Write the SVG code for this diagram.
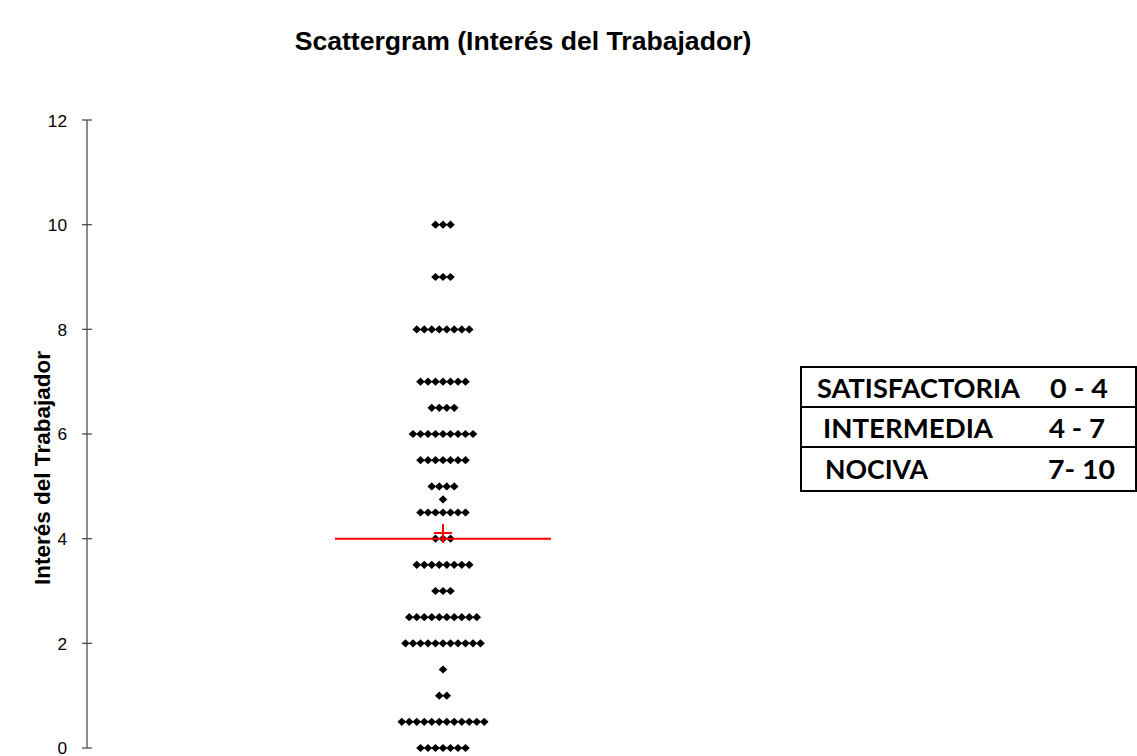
<svg xmlns="http://www.w3.org/2000/svg" xmlns:xlink="http://www.w3.org/1999/xlink" width="1137" height="756" viewBox="0 0 1137 756">
<style>
.title{font-family:"Liberation Sans",Arial,sans-serif;font-weight:bold;font-size:26.6px;fill:#000}
.tick{font-family:"Liberation Sans",Arial,sans-serif;font-size:17.3px;fill:#000;text-anchor:end}
.axlabel{font-family:"Liberation Sans",Arial,sans-serif;font-weight:bold;font-size:22.5px;fill:#000}
.axis{stroke:#404040;stroke-width:1.2;fill:none}
.mean{stroke:#ff0000;stroke-width:2;fill:none}
.tbl{stroke:#000;stroke-width:2;fill:#fff}
.tline{stroke:#000;stroke-width:2}
.ttext{font-family:Lato,"Open Sans",sans-serif;font-weight:bold;font-size:26px;fill:#000}
</style>
<defs>
<path id="d" d="M0,-4.1 L4.3,0 L0,4.1 L-4.3,0 Z" fill="#000"/>
</defs>
<rect width="1137" height="756" fill="#fff"/>
<g id="title">
<text class="title" x="523" y="50" text-anchor="middle">Scattergram (Interés del Trabajador)</text>
</g>
<g id="y-axis">
<line class="axis" x1="87" y1="120" x2="87" y2="748"/>
<line class="axis" x1="82" y1="120" x2="92" y2="120"/>
<line class="axis" x1="82" y1="224.7" x2="92" y2="224.7"/>
<line class="axis" x1="82" y1="329.3" x2="92" y2="329.3"/>
<line class="axis" x1="82" y1="434" x2="92" y2="434"/>
<line class="axis" x1="82" y1="538.7" x2="92" y2="538.7"/>
<line class="axis" x1="82" y1="643.3" x2="92" y2="643.3"/>
<line class="axis" x1="82" y1="748" x2="92" y2="748"/>
<text class="tick" x="67" y="126.5">12</text>
<text class="tick" x="67" y="231">10</text>
<text class="tick" x="67" y="335.5">8</text>
<text class="tick" x="67" y="440.2">6</text>
<text class="tick" x="67" y="545">4</text>
<text class="tick" x="67" y="649.5">2</text>
<text class="tick" x="67" y="754">0</text>
<text class="axlabel" transform="translate(50,468) rotate(-90)" text-anchor="middle">Interés del Trabajador</text>
</g>
<g id="points">
<use xlink:href="#d" x="435.5" y="224.7"/><use xlink:href="#d" x="443" y="224.7"/><use xlink:href="#d" x="450.5" y="224.7"/>
<use xlink:href="#d" x="435.5" y="277"/><use xlink:href="#d" x="443" y="277"/><use xlink:href="#d" x="450.5" y="277"/>
<use xlink:href="#d" x="416.75" y="329.4"/><use xlink:href="#d" x="424.25" y="329.4"/><use xlink:href="#d" x="431.75" y="329.4"/><use xlink:href="#d" x="439.25" y="329.4"/><use xlink:href="#d" x="446.75" y="329.4"/><use xlink:href="#d" x="454.25" y="329.4"/><use xlink:href="#d" x="461.75" y="329.4"/><use xlink:href="#d" x="469.25" y="329.4"/>
<use xlink:href="#d" x="420.5" y="381.7"/><use xlink:href="#d" x="428" y="381.7"/><use xlink:href="#d" x="435.5" y="381.7"/><use xlink:href="#d" x="443" y="381.7"/><use xlink:href="#d" x="450.5" y="381.7"/><use xlink:href="#d" x="458" y="381.7"/><use xlink:href="#d" x="465.5" y="381.7"/>
<use xlink:href="#d" x="431.75" y="407.8"/><use xlink:href="#d" x="439.25" y="407.8"/><use xlink:href="#d" x="446.75" y="407.8"/><use xlink:href="#d" x="454.25" y="407.8"/>
<use xlink:href="#d" x="413" y="434"/><use xlink:href="#d" x="420.5" y="434"/><use xlink:href="#d" x="428" y="434"/><use xlink:href="#d" x="435.5" y="434"/><use xlink:href="#d" x="443" y="434"/><use xlink:href="#d" x="450.5" y="434"/><use xlink:href="#d" x="458" y="434"/><use xlink:href="#d" x="465.5" y="434"/><use xlink:href="#d" x="473" y="434"/>
<use xlink:href="#d" x="420.5" y="460.2"/><use xlink:href="#d" x="428" y="460.2"/><use xlink:href="#d" x="435.5" y="460.2"/><use xlink:href="#d" x="443" y="460.2"/><use xlink:href="#d" x="450.5" y="460.2"/><use xlink:href="#d" x="458" y="460.2"/><use xlink:href="#d" x="465.5" y="460.2"/>
<use xlink:href="#d" x="431.75" y="486.4"/><use xlink:href="#d" x="439.25" y="486.4"/><use xlink:href="#d" x="446.75" y="486.4"/><use xlink:href="#d" x="454.25" y="486.4"/>
<use xlink:href="#d" x="443" y="499.4"/>
<use xlink:href="#d" x="420.5" y="512.5"/><use xlink:href="#d" x="428" y="512.5"/><use xlink:href="#d" x="435.5" y="512.5"/><use xlink:href="#d" x="443" y="512.5"/><use xlink:href="#d" x="450.5" y="512.5"/><use xlink:href="#d" x="458" y="512.5"/><use xlink:href="#d" x="465.5" y="512.5"/>
<use xlink:href="#d" x="435.5" y="538.7"/><use xlink:href="#d" x="443" y="538.7"/><use xlink:href="#d" x="450.5" y="538.7"/>
<use xlink:href="#d" x="416.75" y="564.8"/><use xlink:href="#d" x="424.25" y="564.8"/><use xlink:href="#d" x="431.75" y="564.8"/><use xlink:href="#d" x="439.25" y="564.8"/><use xlink:href="#d" x="446.75" y="564.8"/><use xlink:href="#d" x="454.25" y="564.8"/><use xlink:href="#d" x="461.75" y="564.8"/><use xlink:href="#d" x="469.25" y="564.8"/>
<use xlink:href="#d" x="435.5" y="591"/><use xlink:href="#d" x="443" y="591"/><use xlink:href="#d" x="450.5" y="591"/>
<use xlink:href="#d" x="409.25" y="617.2"/><use xlink:href="#d" x="416.75" y="617.2"/><use xlink:href="#d" x="424.25" y="617.2"/><use xlink:href="#d" x="431.75" y="617.2"/><use xlink:href="#d" x="439.25" y="617.2"/><use xlink:href="#d" x="446.75" y="617.2"/><use xlink:href="#d" x="454.25" y="617.2"/><use xlink:href="#d" x="461.75" y="617.2"/><use xlink:href="#d" x="469.25" y="617.2"/><use xlink:href="#d" x="476.75" y="617.2"/>
<use xlink:href="#d" x="405.5" y="643.3"/><use xlink:href="#d" x="413" y="643.3"/><use xlink:href="#d" x="420.5" y="643.3"/><use xlink:href="#d" x="428" y="643.3"/><use xlink:href="#d" x="435.5" y="643.3"/><use xlink:href="#d" x="443" y="643.3"/><use xlink:href="#d" x="450.5" y="643.3"/><use xlink:href="#d" x="458" y="643.3"/><use xlink:href="#d" x="465.5" y="643.3"/><use xlink:href="#d" x="473" y="643.3"/><use xlink:href="#d" x="480.5" y="643.3"/>
<use xlink:href="#d" x="443" y="669.5"/>
<use xlink:href="#d" x="439.25" y="695.7"/><use xlink:href="#d" x="446.75" y="695.7"/>
<use xlink:href="#d" x="401.75" y="721.8"/><use xlink:href="#d" x="409.25" y="721.8"/><use xlink:href="#d" x="416.75" y="721.8"/><use xlink:href="#d" x="424.25" y="721.8"/><use xlink:href="#d" x="431.75" y="721.8"/><use xlink:href="#d" x="439.25" y="721.8"/><use xlink:href="#d" x="446.75" y="721.8"/><use xlink:href="#d" x="454.25" y="721.8"/><use xlink:href="#d" x="461.75" y="721.8"/><use xlink:href="#d" x="469.25" y="721.8"/><use xlink:href="#d" x="476.75" y="721.8"/><use xlink:href="#d" x="484.25" y="721.8"/>
<use xlink:href="#d" x="420.5" y="748"/><use xlink:href="#d" x="428" y="748"/><use xlink:href="#d" x="435.5" y="748"/><use xlink:href="#d" x="443" y="748"/><use xlink:href="#d" x="450.5" y="748"/><use xlink:href="#d" x="458" y="748"/><use xlink:href="#d" x="465.5" y="748"/>
</g>
<g id="mean-line">
<line class="mean" x1="335" y1="538.7" x2="551" y2="538.7"/>
<line class="mean" x1="434" y1="533" x2="452" y2="533"/>
<line class="mean" x1="443" y1="524" x2="443" y2="543"/>
</g>
<g id="legend-table">
<rect class="tbl" x="801" y="367" width="335" height="124"/>
<line class="tline" x1="801" y1="407" x2="1136" y2="407"/>
<line class="tline" x1="801" y1="447" x2="1136" y2="447"/>
<text class="ttext" x="817" y="397.5" textLength="203" lengthAdjust="spacingAndGlyphs">SATISFACTORIA</text>
<text class="ttext" x="1050" y="397.5" textLength="58" lengthAdjust="spacingAndGlyphs">0 - 4</text>
<text class="ttext" x="823" y="437.5" textLength="170" lengthAdjust="spacingAndGlyphs">INTERMEDIA</text>
<text class="ttext" x="1049" y="437.5" textLength="56" lengthAdjust="spacingAndGlyphs">4 - 7</text>
<text class="ttext" x="825" y="478.5" textLength="103" lengthAdjust="spacingAndGlyphs">NOCIVA</text>
<text class="ttext" x="1048" y="478.5" textLength="67" lengthAdjust="spacingAndGlyphs">7- 10</text>
</g>
</svg>
